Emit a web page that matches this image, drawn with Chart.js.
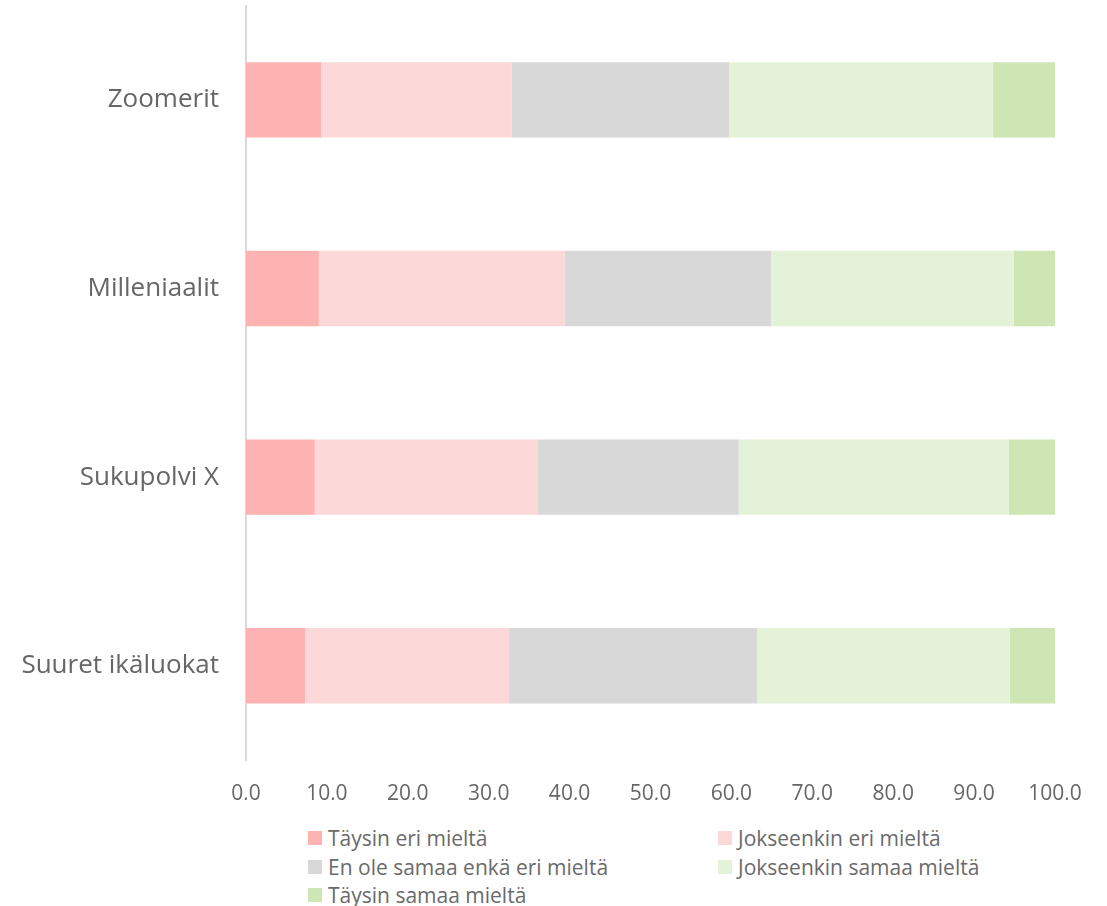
<!DOCTYPE html>
<html>
<head>
<meta charset="utf-8">
<script src="https://cdn.jsdelivr.net/npm/chart.js@4"></script>
<style>
  body { margin: 0; background: #fff; font-family: "Open Sans", sans-serif; }
  #wrap { position: relative; width: 1107px; height: 906px; overflow: hidden; }
  #chart-box { position: absolute; left: 0; top: -29px; width: 1107px; height: 829px; }
  .leg { position: absolute; font-size: 21px; color: #6a6a6a; line-height: 28px; white-space: nowrap; }
  .leg span { position: absolute; left: -20px; top: 7px; width: 14px; height: 14px; }
</style>
</head>
<body>
<div id="wrap">
  <div id="chart-box"><canvas id="my-chart"></canvas></div>
  <div id="legend"></div>
</div>
<script>
  // ikäryhmät (ylhäältä alas)
  const categories = ["Zoomerit", "Milleniaalit", "Sukupolvi X", "Suuret ikäluokat"];

  const seriesNames = [
    "Täysin eri mieltä",
    "Jokseenkin eri mieltä",
    "En ole samaa enkä eri mieltä",
    "Jokseenkin samaa mieltä",
    "Täysin samaa mieltä"
  ];

  // prosentit
  const taysinEri = [9.3, 9.0, 8.5, 7.3];
  const jokseenkinEri = [23.5, 30.4, 27.6, 25.2];
  const enOle = [26.9, 25.5, 24.8, 30.7];
  const jokseenkinSamaa = [32.6, 30.0, 33.4, 31.2];
  const taysinSamaa = [7.7, 5.1, 5.7, 5.6];

  const xTicks = [0, 10, 20, 30, 40, 50, 60, 70, 80, 90, 100];

  const colors = ["#FFB2B2", "#FDD8D8", "#D8D8D8", "#E4F2D8", "#CDE6B3"];
  const allValues = [taysinEri, jokseenkinEri, enOle, jokseenkinSamaa, taysinSamaa];

  const datasets = allValues.map((vals, i) => ({
    label: seriesNames[i],
    data: vals,
    backgroundColor: colors[i],
    borderWidth: 0,
    categoryPercentage: 1.0,
    barPercentage: 0.4
  }));

  const ctx = document.getElementById("my-chart");
  new Chart(ctx, {
    type: "bar",
    data: { labels: categories, datasets },
    options: {
      indexAxis: "y",
      responsive: true,
      maintainAspectRatio: false,
      animation: false,
      layout: { padding: { left: 0, right: 52, top: 6, bottom: 0 } },
      plugins: { legend: { display: false }, tooltip: { enabled: false } },
      scales: {
        x: {
          stacked: true,
          min: 0,
          max: 100,
          afterBuildTicks: (scale) => { scale.ticks = xTicks.map(v => ({ value: v })); },
          afterFit: (scale) => { scale.height = 40; },
          grid: { display: false },
          border: { display: false },
          ticks: {
            color: "#666",
            font: { family: "Open Sans", size: 21 },
            padding: 13,
            maxRotation: 0,
            callback: (v) => Number(v).toFixed(1).replace(".", ",")
          }
        },
        y: {
          stacked: true,
          afterFit: (scale) => { scale.width = 246; },
          grid: { display: false },
          border: { display: true, color: "#D9D9D9", width: 2 },
          ticks: {
            color: "#666",
            font: { family: "Open Sans", size: 26 },
            padding: 19
          }
        }
      }
    }
  });

  // legenda kahdessa sarakkeessa
  const legendPos = [
    [328, 824], [738, 824],
    [328, 853], [738, 853],
    [328, 881]
  ];
  let template = "";
  seriesNames.forEach((name, i) => {
    template += `<div class="leg" style="left:${legendPos[i][0]}px;top:${legendPos[i][1]}px"><span style="background:${colors[i]}"></span>${name}</div>`;
  });
  document.getElementById("legend").innerHTML = template;
</script>
</body>
</html>
